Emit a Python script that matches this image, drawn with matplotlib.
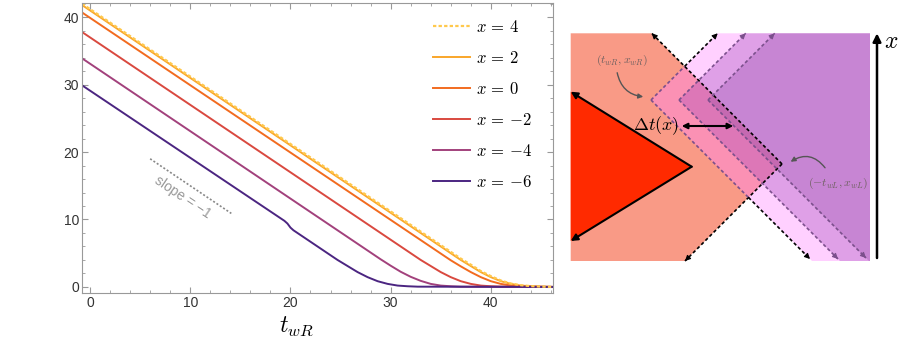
import matplotlib
matplotlib.use("Agg")
import matplotlib.pyplot as plt
from matplotlib.patches import Polygon, FancyArrowPatch
from matplotlib.ticker import MultipleLocator

plt.rcParams['font.family'] = ['Liberation Sans', 'DejaVu Sans']
plt.rcParams['mathtext.fontset'] = 'cm'

# ---- curves (t_wR, value) ----
t_x4 = [-0.8, 37, 38, 39, 40, 41, 42, 43, 44, 45, 46.2]
v_x4 = [42.0, 4.2, 3.3, 2.35, 1.6, 0.95, 0.5, 0.25, 0.12, 0.05, 0.0]
t_x2 = [-0.8, 37, 38, 39, 40, 41, 42, 43, 44, 45, 46.2]
v_x2 = [41.8, 4.0, 3.1, 2.2, 1.45, 0.85, 0.45, 0.2, 0.1, 0.04, 0.0]
t_x0 = [-0.8, 36, 37, 38, 39, 40, 41, 42, 43, 44, 46.2]
v_x0 = [40.7, 3.95, 3.05, 2.2, 1.45, 0.85, 0.45, 0.2, 0.1, 0.04, 0.0]
t_xm2 = [-0.8, 33, 34, 35, 36, 37, 38, 39, 40, 41, 46.2]
v_xm2 = [37.8, 4.0, 3.1, 2.2, 1.45, 0.85, 0.45, 0.2, 0.1, 0.04, 0.0]
t_xm4 = [-0.8, 29, 30, 31, 32, 33, 34, 35, 36, 37, 46.2]
v_xm4 = [33.9, 4.1, 3.15, 2.25, 1.5, 0.9, 0.45, 0.2, 0.1, 0.04, 0.0]
t_xm6 = [-0.8, 19.4, 19.7, 20.0, 20.3, 24.7, 25.7, 26.7, 27.7, 28.7, 29.7, 30.7, 31.7, 32.7, 46.2]
v_xm6 = [29.9, 9.8, 9.4, 8.8, 8.4, 4.0, 3.1, 2.2, 1.45, 0.85, 0.45, 0.2, 0.1, 0.04, 0.0]

labels = [r'$x\,=\,4$', r'$x\,=\,2$', r'$x\,=\,0$', r'$x\,=\,{-}2$', r'$x\,=\,{-}4$', r'$x\,=\,{-}6$']
colors = ['#FFC94D', '#F9A62A', '#F26B1F', '#D9493F', '#A2417C', '#4B2581']

fig = plt.figure(figsize=(9, 3.42), dpi=100)
ax = fig.add_axes([82/900, 1-293/342, (553-82)/900, (293-3)/342])

series = [(t_x2, v_x2), (t_x0, v_x0), (t_xm2, v_xm2), (t_xm4, v_xm4), (t_xm6, v_xm6)]
handles = []
for (t, v), c, lab in zip(series, colors[1:], labels[1:]):
    h, = ax.plot(t, v, color=c, lw=1.4, label=lab)
    handles.append(h)
h4, = ax.plot(t_x4, v_x4, color=colors[0], lw=1.6, ls=(0, (1.5, 1)), label=labels[0])
handles.insert(0, h4)

# slope guide
ax.plot([6.0, 14.1], [19.0, 10.9], color='#888888', lw=1.2, ls=(0, (1.2, 1.2)))
ax.text(9.2, 13.3, 'slope = \u22121', color='#999999', fontsize=10, rotation=-34,
        ha='center', va='center')

ax.set_xlim(-0.8, 46.2)
ax.set_ylim(-0.9, 42.1)
ax.xaxis.set_major_locator(MultipleLocator(10))
ax.xaxis.set_minor_locator(MultipleLocator(2))
ax.yaxis.set_major_locator(MultipleLocator(10))
ax.yaxis.set_minor_locator(MultipleLocator(2))
ax.tick_params(which='both', direction='in', top=True, right=True, color='#999999',
               labelcolor='#333333', labelsize=10, pad=2)
ax.tick_params(which='major', length=4, width=0.8)
ax.tick_params(which='minor', length=2.5, width=0.6)
for s in ax.spines.values():
    s.set_color('#999999')
    s.set_linewidth(0.8)

fig.text(296/900, 1-326/342, r'$t_{wR}$', fontsize=17, ha='center', va='center')

ax.legend(handles=handles, loc='upper left', bbox_to_anchor=(433/900, 1-19/342),
          bbox_transform=fig.transFigure, frameon=False, fontsize=12,
          handlelength=2.2, handletextpad=0.4, labelspacing=0.9,
          borderpad=0, borderaxespad=0)

# ---- right panel: schematic in pixel coordinates ----
ad = fig.add_axes([560/900, 0, 340/900, 1])
ad.set_xlim(560, 900)
ad.set_ylim(342, 0)
ad.axis('off')

x_left, x_right, y_top, y_bot = 570.7, 870, 33.3, 261
salmon_tip = (782, 164)
salmon = [(x_left, y_top), (651.7, y_top), salmon_tip, (685, y_bot), (x_left, y_bot)]
red_tri = [(x_left, 91.7), (691.7, 166.7), (x_left, 241)]
vertices = [(651, 100), (679, 100), (708, 100)]
wedge_cols = [('#FF85FF', 0.385), ('#A647BD', 0.35), ('#9049A5', 0.3)]
edge_purple = '#7B4F8C'

ad.add_patch(Polygon(salmon, closed=True, fc='#F99A86', ec='none'))
ad.add_patch(Polygon(red_tri, closed=True, fc='#FF2A00', ec='none'))


def seg(p0, p1, col):
    ad.plot([p0[0], p1[0]], [p0[1], p1[1]], color=col, lw=1.2, ls=(0, (2, 1.5)))


def head(p0, p1, col):
    ux, uy = p1[0]-p0[0], p1[1]-p0[1]
    n = (ux**2 + uy**2) ** 0.5
    ad.annotate('', xy=p1, xytext=(p1[0]-4*ux/n, p1[1]-4*uy/n),
                arrowprops=dict(arrowstyle='-|>', color=col, lw=0.8, mutation_scale=8,
                                shrinkA=0, shrinkB=0))


# salmon boundary (under the translucent wedges)
seg(salmon_tip, (651.7, y_top), 'black')
seg(salmon_tip, (685, y_bot), 'black')
head(salmon_tip, (651.7, y_top), 'black')
head(salmon_tip, (685, y_bot), 'black')

for (vx, vy), (c, a) in zip(vertices, wedge_cols):
    ytop_x = vx + (vy - y_top)
    ybot_x = vx + (y_bot - vy)
    pts = [(vx, vy), (ytop_x, y_top), (x_right, y_top)]
    if ybot_x <= x_right:
        pts += [(x_right, y_bot), (ybot_x, y_bot)]
    else:
        pts += [(x_right, vy + (x_right - vx))]
    ad.add_patch(Polygon(pts, closed=True, fc=c, alpha=a, ec='none'))

# wedge 1 edges: purple inside salmon, black outside
v1 = vertices[0]
cross_up = (684.7, 66.3)
cross_dn = (748.5, 197.5)
top1 = (v1[0] + (v1[1] - y_top), y_top)
bot1 = (v1[0] + (y_bot - v1[1]) - 2, y_bot - 2)
seg(v1, cross_up, edge_purple)
seg(cross_up, top1, 'black')
seg(v1, cross_dn, edge_purple)
seg(cross_dn, bot1, 'black')
head(v1, top1, 'black')
head(v1, bot1, 'black')

for (vx, vy) in vertices[1:]:
    top = (vx + (vy - y_top), y_top)
    end_x = min(vx + (y_bot - vy) - 2, 866)
    bot = (end_x, vy + (end_x - vx))
    seg((vx, vy), top, edge_purple)
    seg((vx, vy), bot, edge_purple)
    head((vx, vy), top, edge_purple)
    head((vx, vy), bot, edge_purple)

# red triangle edges
for p in [(x_left, 91.7), (x_left, 241)]:
    ad.annotate('', xy=p, xytext=(691.7, 166.7),
                arrowprops=dict(arrowstyle='-|>', color='black', lw=1.5, mutation_scale=10,
                                shrinkA=0, shrinkB=0))

# delta t arrow
ad.annotate('', xy=(733.3, 126), xytext=(681.7, 126),
            arrowprops=dict(arrowstyle='<|-|>', color='black', lw=1.5, mutation_scale=8,
                            shrinkA=0, shrinkB=0))
ad.text(656, 126, r'$\Delta t(x)$', fontsize=13, ha='center', va='center')

# point labels with curved arrows
ad.text(621.7, 60, r'$(t_{wR},x_{wR})$', fontsize=8.5, color='#6E6060', ha='center', va='center')
ad.add_patch(FancyArrowPatch((616.7, 70), (646, 97), connectionstyle='arc3,rad=0.4',
                             arrowstyle='-|>', mutation_scale=7, color='#555555', lw=1))
ad.text(838.3, 183.3, r'$(-t_{wL},x_{wL})$', fontsize=8.5, color='#6E6060', ha='center', va='center')
ad.add_patch(FancyArrowPatch((826.7, 170), (788.3, 163.3), connectionstyle='arc3,rad=0.5',
                             arrowstyle='-|>', mutation_scale=7, color='#555555', lw=1))

# x axis arrow
ad.annotate('', xy=(877, 33.3), xytext=(877, 258),
            arrowprops=dict(arrowstyle='-|>', color='black', lw=1.8, mutation_scale=12,
                            shrinkA=0, shrinkB=0))
ad.text(891, 42, r'$x$', fontsize=17, ha='center', va='center')

fig.savefig('out.png', dpi=100)
